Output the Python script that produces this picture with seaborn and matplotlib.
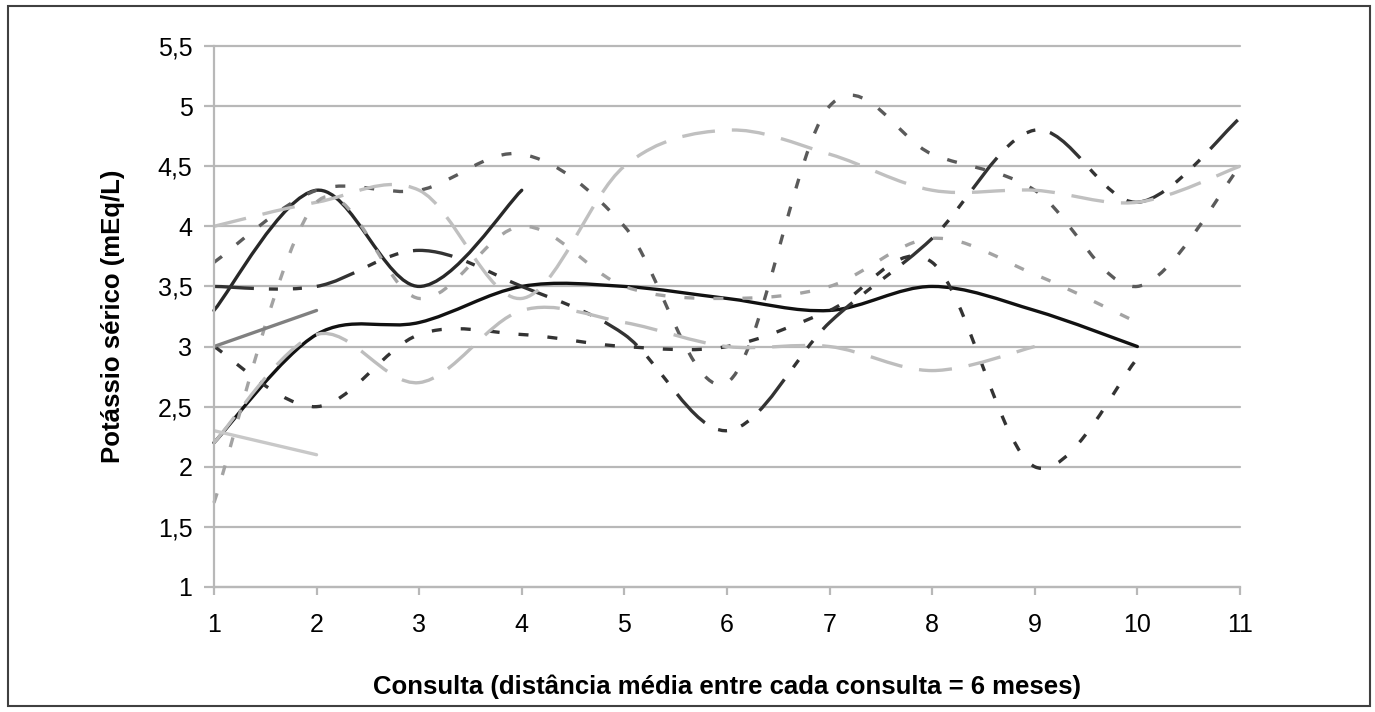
#!/usr/bin/env python3
"""Potássio sérico por consulta - curvas suavizadas por paciente"""

import numpy as np
import matplotlib
matplotlib.use('Agg')
import matplotlib.pyplot as plt
from matplotlib.path import Path
from matplotlib.patches import PathPatch, Rectangle
import seaborn as sns

# dados (mEq/L), um array por paciente, a partir da consulta 1
consultas = list(range(1, 12))
pac_1 = [3.3, 4.3, 3.5, 4.3]
pac_2 = [2.2, 3.1, 3.2, 3.5, 3.5, 3.4, 3.3, 3.5, 3.3, 3.0]
pac_3 = [3.0, 3.3]
pac_4 = [2.3, 2.1]
pac_5 = [3.5, 3.5, 3.8, 3.5, 3.1, 2.3, 3.2, 3.9, 4.8, 4.2, 4.9]
pac_6 = [3.0, 2.5, 3.1, 3.1, 3.0, 3.0, 3.3, 3.7, 2.0, 2.9]
pac_7 = [3.7, 4.3, 4.3, 4.6, 4.0, 2.7, 5.0, 4.6, 4.3, 3.5, 4.5]
pac_8 = [4.0, 4.2, 4.3, 3.4, 4.5, 4.8, 4.6, 4.3, 4.3, 4.2, 4.5]
pac_9 = [2.2, 3.1, 2.7, 3.3, 3.2, 3.0, 3.0, 2.8, 3.0]
pac_10 = [1.7, 4.2, 3.4, 4.0, 3.5, 3.4, 3.5, 3.9, 3.6, 3.2]

y_ticks = [1, 1.5, 2, 2.5, 3, 3.5, 4, 4.5, 5, 5.5]
y_tick_labels = ['1', '1,5', '2', '2,5', '3', '3,5', '4', '4,5', '5', '5,5']
x_tick_labels = [str(c) for c in consultas]

xlabel = 'Consulta (distância média entre cada consulta = 6 meses)'
ylabel = 'Potássio sérico (mEq/L)'

# estilos de traço (pontos)
LONG_DASH = (0, (23.8, 12.2))
DASH = (0, (7.2, 13.7))
LONG_DASH_DOT_DOT = (0, (28.8, 10.8, 6.5, 10.8, 6.5, 10.8))
LW = 2.4


def smooth_path(xs, ys):
    """Curva de Bezier estilo Excel (Catmull-Rom) passando pelos pontos"""
    pts = np.column_stack([xs, ys]).astype(float)
    n = len(pts)
    verts = [pts[0]]
    codes = [Path.MOVETO]
    for i in range(n - 1):
        p0 = pts[i - 1] if i > 0 else pts[i]
        p1 = pts[i]
        p2 = pts[i + 1]
        p3 = pts[i + 2] if i + 2 < n else pts[i + 1]
        verts += [p1 + (p2 - p0) / 6, p2 - (p3 - p1) / 6, p2]
        codes += [Path.CURVE4] * 3
    return Path(verts, codes)


def add_curve(ax, values, color, ls):
    xs = consultas[:len(values)]
    patch = PathPatch(smooth_path(xs, values), facecolor='none', edgecolor=color,
                      lw=LW, linestyle=ls, clip_on=False)
    patch.set_capstyle('butt' if ls != '-' else 'round')
    patch.set_joinstyle('round')
    ax.add_patch(patch)


sns.set_theme(style='white')
plt.rcParams['font.family'] = ['Liberation Sans', 'DejaVu Sans']
plt.rcParams['lines.scale_dashes'] = False

fig = plt.figure(figsize=(13.75, 7.12), dpi=100)
ax = fig.add_axes([0.1556, 0.1756, 0.7462, 0.7598])

# moldura externa
fig.add_artist(Rectangle((0.0058, 0.0084), 0.9905, 0.983, transform=fig.transFigure,
                         fill=False, edgecolor='#404040', lw=1.5))

# séries
add_curve(ax, pac_1, '#282828', '-')
add_curve(ax, pac_2, '#111111', '-')
sns.lineplot(x=consultas[:len(pac_3)], y=pac_3, color='#808080', lw=LW,
             solid_capstyle='round', ax=ax)
sns.lineplot(x=consultas[:len(pac_4)], y=pac_4, color='#c8c8c8', lw=LW,
             solid_capstyle='round', ax=ax)
add_curve(ax, pac_5, '#333333', LONG_DASH_DOT_DOT)
add_curve(ax, pac_6, '#333333', DASH)
add_curve(ax, pac_7, '#5a5a5a', DASH)
add_curve(ax, pac_8, '#c0c0c0', LONG_DASH)
add_curve(ax, pac_9, '#bdbdbd', LONG_DASH)
add_curve(ax, pac_10, '#a3a3a3', DASH)

ax.set_xlim(1, 11)
ax.set_ylim(1, 5.5)
ax.set_xticks(consultas)
ax.set_xticklabels(x_tick_labels)
ax.set_yticks(y_ticks)
ax.set_yticklabels(y_tick_labels)

ax.grid(True, axis='y', color='#b8b8b8', lw=1.6)
ax.grid(False, axis='x')
for gl in ax.yaxis.get_gridlines():
    gl.set_clip_on(False)
ax.set_axisbelow(True)

for side in ['top', 'right']:
    ax.spines[side].set_visible(False)
for side in ['left', 'bottom']:
    ax.spines[side].set_color('#b8b8b8')
    ax.spines[side].set_linewidth(1.6)

ax.tick_params(axis='y', which='major', direction='out', length=7.5, width=1.6,
               color='#b8b8b8', pad=8, labelsize=18, labelcolor='black', left=True)
ax.tick_params(axis='x', which='major', direction='out', length=5.5, width=1.6,
               color='#b8b8b8', pad=13, labelsize=18, labelcolor='black', bottom=True)

ax.set_xlabel(xlabel, fontsize=18.5, fontweight='bold', color='black')
ax.set_ylabel(ylabel, fontsize=18.5, fontweight='bold', color='black')
ax.xaxis.label.set_va('center')
ax.yaxis.label.set_va('center')
ax.xaxis.set_label_coords(0.5, -0.185)
ax.yaxis.set_label_coords(-0.098, 0.5)

plt.savefig('out.png', dpi=100)
plt.close()
